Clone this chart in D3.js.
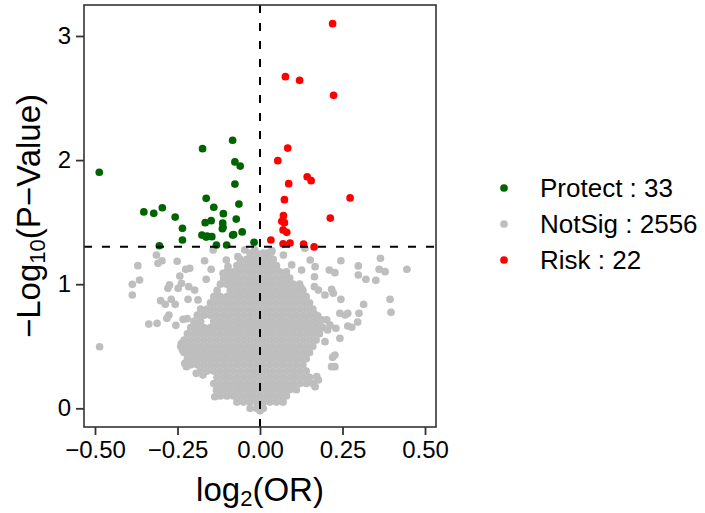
<!DOCTYPE html>
<html>
<head>
<meta charset="utf-8">
<script src="https://cdn.jsdelivr.net/npm/d3@7"></script>
<style>
  body { margin: 0; background: #fff; }
  text { font-family: "Liberation Sans", Arial, sans-serif; }
</style>
</head>
<body>
<div id="chart"></div>
<script>
// groups shown in the legend
var categories = ['Protect', 'NotSig', 'Risk'];
var counts = [33, 2556, 22];

var xTicks = [-0.5, -0.25, 0, 0.25, 0.5];
var yTicks = [0, 1, 2, 3];
var pCut = 0.05;

// significant points, [log2(OR), -log10(p)]
var protectPoints = [
  [-0.487, 1.902], [-0.174, 2.092], [-0.083, 2.160], [-0.076, 1.985], [-0.060, 1.952],
  [-0.076, 1.807], [-0.352, 1.582], [-0.322, 1.571], [-0.296, 1.616], [-0.163, 1.692],
  [-0.140, 1.620], [-0.064, 1.646], [-0.257, 1.541], [-0.111, 1.568], [-0.072, 1.525],
  [-0.166, 1.496], [-0.148, 1.512], [-0.113, 1.493], [-0.114, 1.447], [-0.235, 1.450],
  [-0.054, 1.421], [-0.083, 1.396], [-0.176, 1.396], [-0.163, 1.380], [-0.146, 1.383],
  [-0.235, 1.356], [-0.018, 1.338], [-0.305, 1.310], [-0.132, 1.316], [-0.101, 1.316],
  [-0.160, 1.387], [-0.112, 1.458], [-0.080, 1.400]
];

var riskPoints = [
  [0.220, 3.099], [0.077, 2.672], [0.120, 2.643], [0.223, 2.522], [0.084, 2.097],
  [0.054, 1.995], [0.143, 1.866], [0.155, 1.834], [0.087, 1.810], [0.074, 1.681],
  [0.273, 1.695], [0.213, 1.533], [0.071, 1.552], [0.066, 1.507], [0.074, 1.496],
  [0.070, 1.437], [0.081, 1.418], [0.033, 1.356], [0.070, 1.326], [0.091, 1.332],
  [0.132, 1.324], [0.164, 1.300]
];

// scattered non significant points
var notSigOuter = [
  [-0.486, 0.496], [-0.370, 1.149], [-0.387, 0.999], [-0.365, 1.034], [-0.387, 0.913],
  [-0.314, 1.235], [-0.309, 1.168], [-0.297, 1.189], [-0.251, 1.185], [-0.337, 0.679],
  [-0.312, 0.685], [-0.301, 0.867], [-0.287, 0.838], [-0.269, 0.878], [-0.257, 0.838],
  [-0.282, 0.725], [-0.276, 0.752], [-0.255, 0.669], [-0.279, 0.967], [-0.274, 0.994],
  [-0.233, 0.717], [-0.221, 0.722], [-0.225, 1.120], [-0.213, 1.128], [-0.243, 1.066],
  [-0.238, 1.007], [-0.248, 0.967], [-0.216, 0.980], [-0.218, 0.878], [-0.168, 1.189],
  [-0.148, 1.120], [-0.142, 1.276], [-0.163, 1.039], [-0.198, 0.953], [-0.188, 0.873],
  [-0.238, 0.524], [-0.235, 0.470], [-0.228, 0.363], [-0.223, 0.335], [-0.193, 0.282],
  [-0.173, 0.268], [-0.137, 0.093], [-0.132, 0.147], [-0.102, 1.195], [-0.097, 1.141],
  [-0.112, 1.088], [-0.082, 1.074], [-0.067, 1.222], [-0.046, 1.276], [-0.016, 1.276],
  [0.445, 1.120], [0.365, 1.209], [0.361, 1.120], [0.379, 1.101], [0.394, 0.878],
  [0.397, 0.774], [0.245, 1.189], [0.298, 1.147], [0.298, 1.074], [0.321, 1.039],
  [0.351, 1.031], [0.314, 0.838], [0.300, 0.766], [0.296, 0.695], [0.278, 0.653],
  [0.266, 0.663], [0.258, 0.752], [0.266, 0.766], [0.242, 0.766], [0.245, 0.878],
  [0.242, 0.564], [0.230, 0.645], [0.210, 1.114], [0.227, 1.093], [0.167, 1.141],
  [0.165, 1.060], [0.152, 1.195], [0.136, 1.289], [0.126, 1.114], [0.227, 0.429],
  [0.220, 0.411], [0.217, 0.335], [0.227, 0.335], [0.197, 0.537], [0.205, 0.631],
  [0.212, 0.671], [0.202, 0.712], [0.162, 0.766], [0.175, 0.744], [0.187, 0.712],
  [0.172, 0.255], [0.167, 0.174], [0.177, 0.228], [0.217, 0.959], [0.222, 0.927],
  [0.197, 0.913], [0.177, 0.953], [0.165, 0.980], [0.096, 1.155], [0.071, 1.235],
  [0.035, 1.262], [0.025, 1.114], [0.000, 1.020], [0.040, 1.155], [0.086, 1.048],
  [0.086, 1.007], [0.126, 0.967], [0.036, 1.270], [0.024, 1.250]
];

// dense core of non significant points, one row per -log10(p) level
var notSigCore = [
  [-0.02, [0.00]],
  [0.00, [-0.03, -0.01, 0.01]],
  [0.05, [-0.07, -0.05, -0.03, -0.01, 0.01, 0.03, 0.05, 0.07]],
  [0.10, [-0.12, -0.10, -0.08, -0.06, -0.04, -0.02, 0.00, 0.02, 0.04, 0.06, 0.08]],
  [0.15, [-0.13, -0.11, -0.09, -0.07, -0.05, -0.03, -0.01, 0.01, 0.03, 0.05, 0.07, 0.09, 0.11]],
  [0.20, [-0.14, -0.12, -0.10, -0.08, -0.06, -0.04, -0.02, 0.00, 0.02, 0.04, 0.06, 0.08, 0.10, 0.12, 0.14, 0.16]],
  [0.25, [-0.13, -0.11, -0.09, -0.07, -0.05, -0.03, -0.01, 0.01, 0.03, 0.05, 0.07, 0.09, 0.11, 0.13, 0.15]],
  [0.30, [-0.18, -0.16, -0.14, -0.12, -0.10, -0.08, -0.06, -0.04, -0.02, 0.00, 0.02, 0.04, 0.06, 0.08, 0.10, 0.12, 0.14]],
  [0.35, [-0.21, -0.19, -0.17, -0.15, -0.13, -0.11, -0.09, -0.07, -0.05, -0.03, -0.01, 0.01, 0.03, 0.05, 0.07, 0.09, 0.11, 0.13]],
  [0.40, [-0.22, -0.20, -0.18, -0.16, -0.14, -0.12, -0.10, -0.08, -0.06, -0.04, -0.02, 0.00, 0.02, 0.04, 0.06, 0.08, 0.10, 0.12, 0.14]],
  [0.45, [-0.23, -0.21, -0.19, -0.17, -0.15, -0.13, -0.11, -0.09, -0.07, -0.05, -0.03, -0.01, 0.01, 0.03, 0.05, 0.07, 0.09, 0.11, 0.13, 0.15]],
  [0.50, [-0.24, -0.22, -0.20, -0.18, -0.16, -0.14, -0.12, -0.10, -0.08, -0.06, -0.04, -0.02, 0.00, 0.02, 0.04, 0.06, 0.08, 0.10, 0.12, 0.14, 0.16]],
  [0.55, [-0.23, -0.21, -0.19, -0.17, -0.15, -0.13, -0.11, -0.09, -0.07, -0.05, -0.03, -0.01, 0.01, 0.03, 0.05, 0.07, 0.09, 0.11, 0.13, 0.15, 0.17]],
  [0.60, [-0.22, -0.20, -0.18, -0.16, -0.14, -0.12, -0.10, -0.08, -0.06, -0.04, -0.02, 0.00, 0.02, 0.04, 0.06, 0.08, 0.10, 0.12, 0.14, 0.16, 0.18]],
  [0.65, [-0.21, -0.19, -0.17, -0.15, -0.13, -0.11, -0.09, -0.07, -0.05, -0.03, -0.01, 0.01, 0.03, 0.05, 0.07, 0.09, 0.11, 0.13, 0.15, 0.17, 0.19]],
  [0.70, [-0.20, -0.18, -0.14, -0.12, -0.10, -0.08, -0.06, -0.04, -0.02, 0.00, 0.02, 0.04, 0.06, 0.08, 0.10, 0.12, 0.14, 0.16, 0.18]],
  [0.75, [-0.19, -0.17, -0.15, -0.13, -0.11, -0.09, -0.07, -0.05, -0.03, -0.01, 0.01, 0.03, 0.05, 0.07, 0.09, 0.11, 0.13, 0.15, 0.17]],
  [0.80, [-0.18, -0.16, -0.14, -0.12, -0.10, -0.08, -0.06, -0.04, -0.02, 0.00, 0.02, 0.04, 0.06, 0.08, 0.10, 0.12, 0.14, 0.16]],
  [0.85, [-0.15, -0.13, -0.11, -0.09, -0.07, -0.05, -0.03, -0.01, 0.01, 0.03, 0.05, 0.07, 0.09, 0.11, 0.13, 0.15]],
  [0.90, [-0.14, -0.12, -0.10, -0.08, -0.06, -0.04, -0.02, 0.00, 0.02, 0.04, 0.06, 0.08, 0.10, 0.12, 0.14]],
  [0.95, [-0.13, -0.09, -0.07, -0.05, -0.03, -0.01, 0.01, 0.03, 0.05, 0.07, 0.09, 0.11, 0.13]],
  [1.00, [-0.12, -0.10, -0.08, -0.06, -0.04, -0.02, 0.00, 0.02, 0.04, 0.06, 0.08, 0.10, 0.12]],
  [1.05, [-0.11, -0.09, -0.07, -0.05, -0.03, -0.01, 0.01, 0.03, 0.05, 0.07, 0.09]],
  [1.10, [-0.10, -0.08, -0.06, -0.04, -0.02, 0.00, 0.02, 0.04, 0.06, 0.08]],
  [1.15, [-0.07, -0.05, -0.03, -0.01, 0.01, 0.03, 0.05]],
  [1.20, [-0.06, -0.04, -0.02, 0.00, 0.02, 0.04]],
  [1.25, [-0.03, -0.01, 0.01, 0.03]]
];

var colors = { Protect: '#006400', NotSig: '#bebebe', Risk: '#ff0000' };

var width = 705, height = 513;
var panel = { left: 84, right: 436, top: 5, bottom: 427 };

var svg = d3.select('#chart').append('svg')
  .attr('width', width)
  .attr('height', height);

var x = d3.scaleLinear().domain([-0.5333, 0.5333]).range([panel.left, panel.right]);
var y = d3.scaleLinear().domain([-0.1507, 3.2498]).range([panel.bottom, panel.top]);

// points
var notSig = notSigOuter.slice();
notSigCore.forEach(function(row) {
  row[1].forEach(function(v) { notSig.push([v, row[0]]); });
});

var layers = [
  { name: 'NotSig', data: notSig },
  { name: 'Protect', data: protectPoints },
  { name: 'Risk', data: riskPoints }
];

var plot = svg.append('g');
layers.forEach(function(l) {
  plot.append('g')
    .selectAll('circle')
    .data(l.data)
    .enter()
      .append('circle')
        .attr('cx', function(d) { return x(d[0]); })
        .attr('cy', function(d) { return y(d[1]); })
        .attr('r', 3.85)
        .attr('fill', colors[l.name]);
});

// threshold lines
svg.append('line')
  .attr('x1', x(0)).attr('x2', x(0))
  .attr('y1', panel.bottom).attr('y2', panel.top)
  .attr('stroke', '#000').attr('stroke-width', 2)
  .attr('stroke-dasharray', '8,10');

svg.append('line')
  .attr('x1', panel.left).attr('x2', panel.right)
  .attr('y1', y(-Math.log10(pCut))).attr('y2', y(-Math.log10(pCut)))
  .attr('stroke', '#000').attr('stroke-width', 2)
  .attr('stroke-dasharray', '8,10');

// panel border
svg.append('rect')
  .attr('x', panel.left).attr('y', panel.top)
  .attr('width', panel.right - panel.left)
  .attr('height', panel.bottom - panel.top)
  .attr('fill', 'none')
  .attr('stroke', '#333')
  .attr('stroke-width', 1.6);

function fmt(v, digits) {
  var s = v.toFixed(digits);
  return s.replace('-', '\u2212');
}

// axes
var xAxis = svg.append('g')
  .attr('transform', 'translate(0,' + panel.bottom + ')')
  .call(d3.axisBottom(x).tickValues(xTicks).tickSize(8).tickPadding(6)
    .tickFormat(function(d) { return fmt(d, 2); }));
var yAxis = svg.append('g')
  .attr('transform', 'translate(' + panel.left + ',0)')
  .call(d3.axisLeft(y).tickValues(yTicks).tickSize(8).tickPadding(5)
    .tickFormat(function(d) { return fmt(d, 0); }));

[xAxis, yAxis].forEach(function(a) {
  a.select('.domain').remove();
  a.selectAll('.tick line').attr('stroke', '#333').attr('stroke-width', 1.8);
  a.selectAll('.tick text')
    .attr('fill', '#000')
    .style('font-size', '24px')
    .style('font-family', '"Liberation Sans", Arial, sans-serif');
});

// axis titles
var xt = svg.append('text')
  .attr('x', (panel.left + panel.right) / 2)
  .attr('y', 501)
  .attr('text-anchor', 'middle')
  .style('font-size', '33px');
xt.append('tspan').text('log');
xt.append('tspan').attr('dy', 5).style('font-size', '22px').text('2');
xt.append('tspan').attr('dy', -5).text('(OR)');

var yt = svg.append('text')
  .attr('transform', 'translate(40,' + (panel.top + panel.bottom) / 2 + ') rotate(-90)')
  .attr('text-anchor', 'middle')
  .style('font-size', '33px');
yt.append('tspan').text('\u2212Log');
yt.append('tspan').attr('dy', 5).style('font-size', '22px').text('10');
yt.append('tspan').attr('dy', -5).text('(P\u2212Value)');

// legend
var legend = svg.append('g');
var legendY = [188, 224, 260];
categories.forEach(function(c, i) {
  legend.append('circle')
    .attr('cx', 504).attr('cy', legendY[i]).attr('r', 3.85)
    .attr('fill', colors[c]);
  legend.append('text')
    .attr('x', 540).attr('y', legendY[i] + 9)
    .style('font-size', '26px')
    .text(c + ' : ' + counts[i]);
});
</script>
</body>
</html>
